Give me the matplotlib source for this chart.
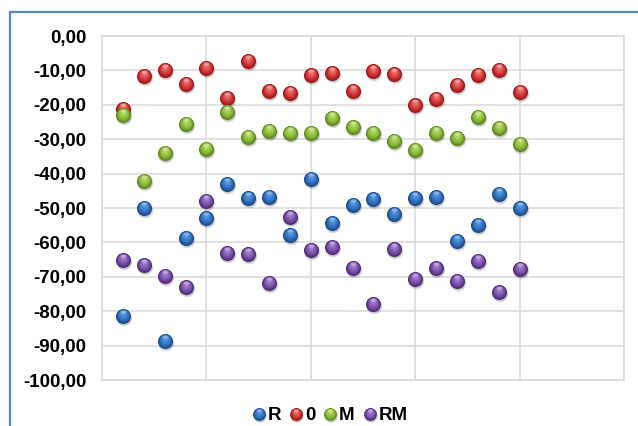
import matplotlib
matplotlib.use("Agg")
import matplotlib.pyplot as plt
import numpy as np
from matplotlib.markers import MarkerStyle
from matplotlib.transforms import Affine2D
from matplotlib.lines import Line2D
from matplotlib.legend_handler import HandlerTuple
from matplotlib.colors import to_rgb
from matplotlib.patches import Rectangle

# ---- data ----
x_vals = list(range(1, 21))
r_vals = [-81.4, -50.1, -88.8, -58.7, -52.8, -42.9, -47.0, -46.7, -57.8, -41.7,
          -54.5, -49.1, -47.5, -51.6, -47.1, -46.9, -59.7, -55.0, -46.0, -50.0]
zero_vals = [-21.2, -11.6, -9.9, -14.0, -9.2, -17.9, -7.4, -16.0, -16.7, -11.2,
             -10.7, -16.1, -10.1, -11.0, -20.0, -18.3, -14.2, -11.3, -9.8, -16.4]
m_vals = [-22.9, -42.2, -34.1, -25.7, -32.8, -22.1, -29.5, -27.6, -28.1, -28.1,
          -23.9, -26.5, -28.1, -30.6, -33.1, -28.1, -29.7, -23.5, -26.6, -31.3]
rm_vals = [-65.1, -66.5, -69.9, -73.0, -48.0, -63.2, -63.4, -71.7, -52.5, -62.3,
           -61.4, -67.3, -77.9, -62.0, -70.6, -67.5, -71.1, -65.3, -74.3, -67.8]
series_names = ["R", "0", "M", "RM"]
series_values = [r_vals, zero_vals, m_vals, rm_vals]
y_ticks = list(range(-100, 1, 10))

# (dark rim, body, highlight) per series
palettes = [
    ("#1c4a86", "#2e72c2", "#609bdd"),
    ("#9a1616", "#d23636", "#ec7c7c"),
    ("#5a861c", "#8bba38", "#bcdc70"),
    ("#4e2b76", "#7a4fab", "#a688d0"),
]


def blend(c1, c2, t):
    a = np.array(to_rgb(c1))
    b = np.array(to_rgb(c2))
    return tuple(a + (b - a) * t)


def sphere_layers(dark, mid, light):
    """Stack of offset circles that together look like a shaded ball."""
    layers = [(MarkerStyle("o", transform=Affine2D().scale(1.08).translate(0.05, -0.12)),
               (0, 0, 0), 0.10),
              (MarkerStyle("o", transform=Affine2D().scale(1.0).translate(0.04, -0.09)),
               (0, 0, 0), 0.14),
              (MarkerStyle("o"), to_rgb(dark), 1.0)]
    n = 10
    for i in range(1, n + 1):
        t = i / n
        s = 1 - 0.8 * t
        dy = (1 - s) * 0.28
        if t < 0.4:
            col = blend(dark, mid, t / 0.4)
        else:
            col = blend(mid, light, (t - 0.4) / 0.6)
        layers.append((MarkerStyle("o", transform=Affine2D().scale(s).translate(0, dy)), col, 1.0))
    layers.append((MarkerStyle("o", transform=Affine2D().scale(0.4, 0.2).translate(0, 0.3)),
                   (1, 1, 1), 0.3))
    return layers


fig = plt.figure(figsize=(6.38, 4.26), dpi=100)
fig.patch.set_facecolor("white")

# outer chart frame
fig.patches.append(Rectangle((10 / 638, -0.2), 2.0, 1.2 - 12 / 426, transform=fig.transFigure,
                             fill=False, edgecolor="#5687c8", linewidth=1.6, zorder=0))

ax = fig.add_axes([102 / 638, 1 - 380 / 426, 522 / 638, 344 / 426])
ax.set_xlim(0, 25)
ax.set_ylim(-100, 0)
ax.set_xticks(range(0, 26, 5))
ax.set_yticks(y_ticks)
ax.set_yticklabels([("%.2f" % v).replace(".", ",") for v in y_ticks])
ax.tick_params(axis="x", length=0, labelbottom=False)
ax.tick_params(axis="y", length=0, pad=11)
for lab in ax.get_yticklabels():
    lab.set_fontfamily("Liberation Sans")
    lab.set_fontweight("bold")
    lab.set_fontsize(13.5)
ax.grid(True, color="#d9d9d9", linewidth=1.1)
ax.set_axisbelow(True)
for sp in ax.spines.values():
    sp.set_color("#d9d9d9")
    sp.set_linewidth(1.1)

legend_handles = []
for name, vals, (dark, mid, light) in zip(series_names, series_values, palettes):
    layers = sphere_layers(dark, mid, light)
    for mk, col, alpha in layers:
        ax.plot(x_vals, vals, linestyle="none", marker=mk, markersize=10.8,
                markerfacecolor=col, markeredgewidth=0, alpha=alpha, clip_on=False)
    legend_handles.append(tuple(
        Line2D([], [], linestyle="none", marker=mk, markersize=9.2,
               markerfacecolor=col, markeredgewidth=0, alpha=alpha)
        for mk, col, alpha in layers))

fig.legend(legend_handles, series_names, loc="center", bbox_to_anchor=(0.517, 0.024),
           ncol=4, frameon=False, handler_map={tuple: HandlerTuple(ndivide=1, pad=0)},
           handlelength=0.7, handletextpad=0.12, columnspacing=0.45, borderpad=0,
           prop={"family": "Liberation Sans", "weight": "bold", "size": 13.5})

fig.savefig("out.png", dpi=100, facecolor="white")
